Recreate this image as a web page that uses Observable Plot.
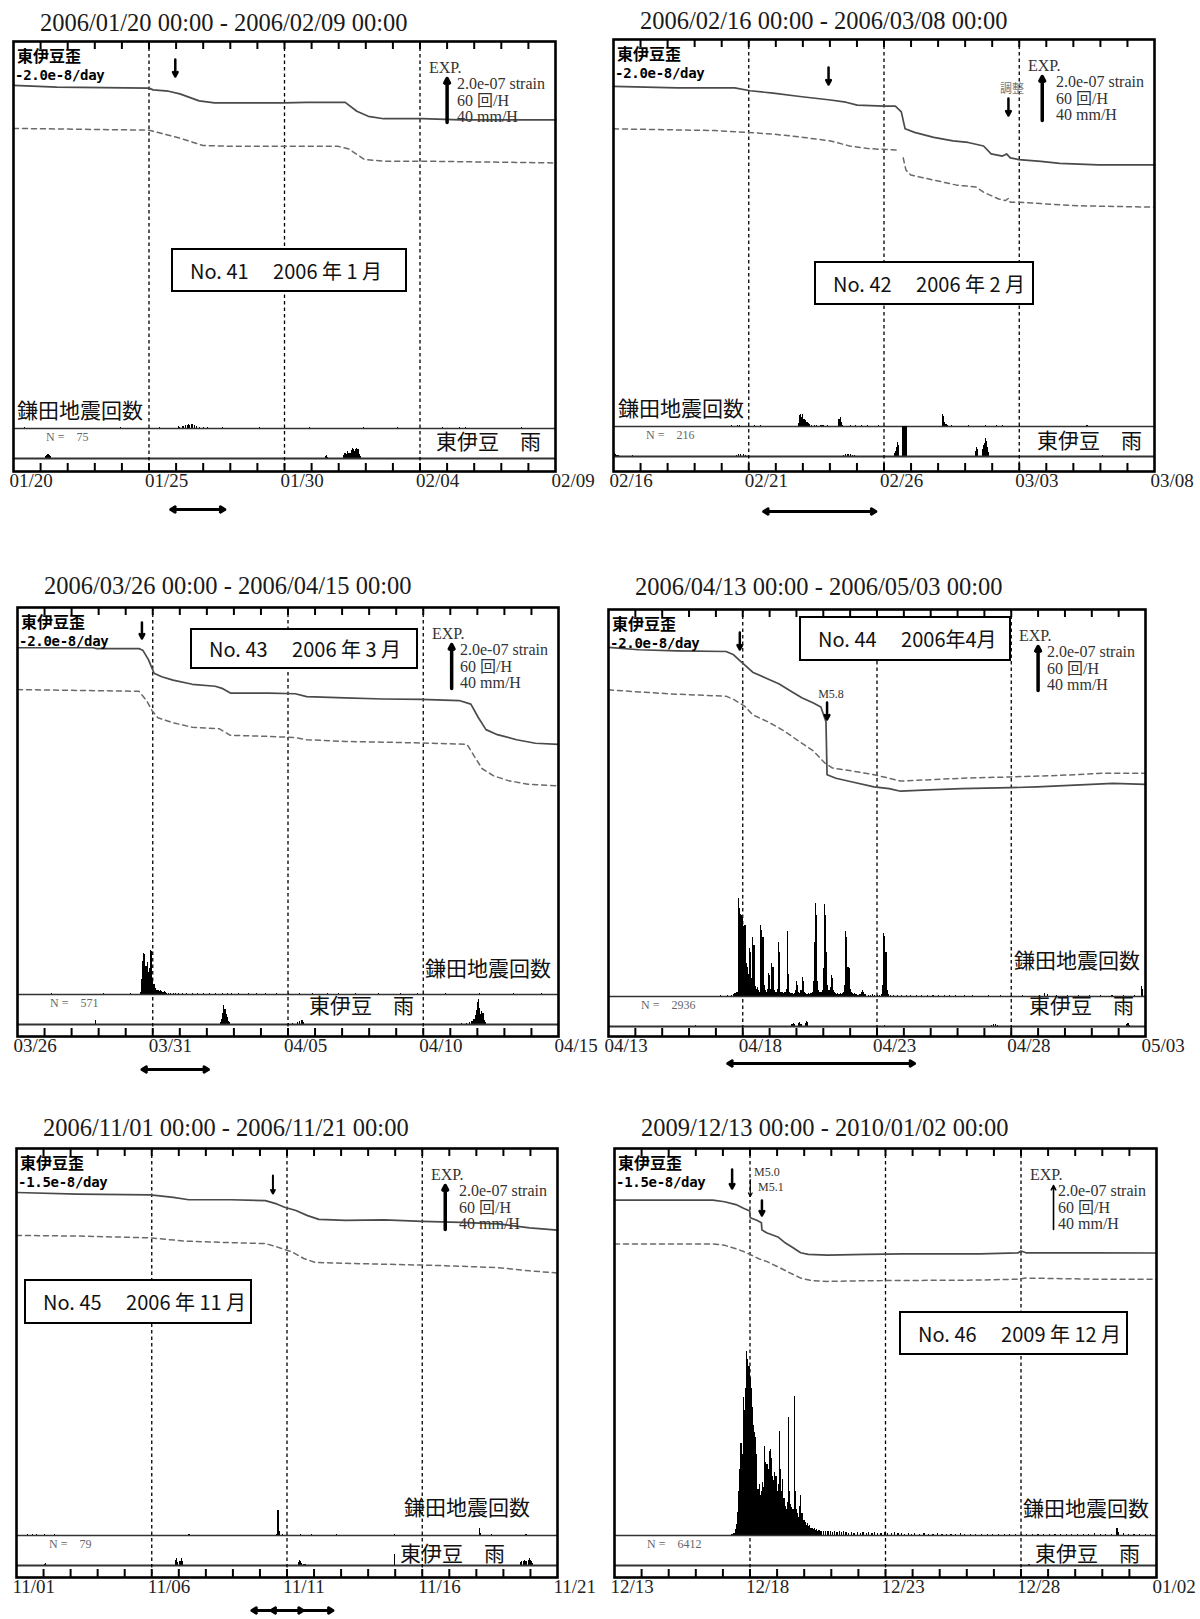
<!DOCTYPE html>
<html><head><meta charset="utf-8">
<script src="https://cdn.jsdelivr.net/npm/d3@7"></script>
<script src="https://cdn.jsdelivr.net/npm/@observablehq/plot@0.6"></script>
<style>
html,body{margin:0;padding:0;background:#fff;}
#root{position:relative;width:1200px;height:1619px;overflow:hidden;background:#fff;}
.t{position:absolute;line-height:1;white-space:pre;}
.box{position:absolute;box-sizing:border-box;border:2px solid #000;background:#fff;display:flex;align-items:center;font-family:"Noto Sans CJK JP",sans-serif;font-size:20px;color:#111;white-space:pre;}
</style></head>
<body><div id="root"></div>
<script>
// ---------------- data ----------------
const panelStarts = ["2006-01-20","2006-02-16","2006-03-26","2006-04-13","2006-11-01","2009-12-13"];
const panelNames = ["No. 41\u3000 2006 年 1 月","No. 42\u3000 2006 年 2 月","No. 43\u3000 2006 年 3 月","No. 44\u3000 2006年4月","No. 45\u3000 2006 年 11 月","No. 46\u3000 2009 年 12 月"];
const trendLabels = ["-2.0e-8/day","-2.0e-8/day","-2.0e-8/day","-2.0e-8/day","-1.5e-8/day","-1.5e-8/day"];
const quakeTotals = [75,216,571,2936,79,6412];
const expLines = ["2.0e-07 strain","60 回/H","40 mm/H"];
const EXP_STRAIN = 20;   // 2.0e-07 strain in units of 1e-8

// strain: [day offset, strain ×1e-8]  (solid = 東伊豆歪, dashed = second trace)
const solid1 = [[0,0.1],[1.6,-0.7],[5.0,-1.2],[5.15,-2.0],[5.72,-2.6],[6.14,-3.8],[6.85,-7.0],[7.42,-7.9],[9.97,-7.9],[10.82,-7.7],[12.24,-7.7],[12.67,-11.7],[13.09,-14.0],[13.66,-15.1],[15.08,-15.1],[16.5,-15.6],[20,-15.6]];
const dashed1 = [[0,-19.5],[5.0,-20.3],[5.72,-22.6],[6.14,-23.9],[6.99,-27.3],[7.99,-27.6],[11.96,-27.6],[12.38,-28.9],[12.95,-33.6],[13.66,-34.4],[15.08,-34.4],[20,-35.2]];
const solid2 = [[0,-1.3],[2.36,-2.0],[4.48,-2.0],[5.05,-3.3],[5.9,-4.4],[6.89,-5.9],[8.02,-7.5],[8.59,-8.5],[9.01,-9.8],[10.0,-10.3],[10.42,-10.3],[10.64,-12.9],[10.78,-20.6],[11.13,-22.2],[11.84,-24.5],[12.55,-26.1],[13.11,-26.8],[13.68,-28.4],[13.96,-32.0],[14.38,-33.0],[14.53,-32.0],[14.67,-33.8],[14.99,-34.6],[15.8,-35.4],[16.5,-36.3],[17.92,-37.0],[20,-37.0]];
const dashed2 = [[0,-20.6],[3.78,-21.4],[4.91,-22.2],[5.9,-23.0],[7.03,-24.5],[8.02,-26.1],[8.73,-28.4],[9.43,-29.6],[10.5,-30.3],[10.6,null],[10.71,-33.8],[10.81,-39.3],[10.99,-41.6],[11.84,-43.9],[12.69,-46.2],[13.39,-47.0],[13.68,-49.4],[14.24,-52.5],[14.5,-53.2],[14.6,-52.2],[14.67,-54.0],[14.99,-54.0],[15.8,-54.6],[17.21,-55.6],[20,-56.2]];
const solid3 = [[0,1.7],[2.79,1.7],[2.93,1.3],[4.49,1.3],[4.63,0.6],[4.84,-3.7],[5.05,-9.9],[5.33,-11.5],[5.75,-13.0],[6.46,-14.9],[7.31,-15.8],[7.59,-16.9],[7.87,-18.9],[9.28,-18.9],[10.27,-19.2],[10.69,-20.5],[12.1,-21.1],[13.51,-21.6],[14.92,-21.8],[16.33,-22.3],[16.76,-23.9],[17.04,-30.1],[17.32,-35.5],[17.74,-37.8],[18.45,-40.1],[19.15,-41.7],[20,-42.2]];
const dashed3 = [[0,-17.3],[4.49,-18.1],[4.77,-22.3],[4.98,-27.0],[5.19,-30.1],[5.75,-32.4],[6.46,-34.4],[7.45,-35.1],[7.87,-38.1],[9.28,-38.6],[10.27,-39.1],[10.69,-40.1],[12.1,-40.9],[13.51,-41.2],[14.92,-41.6],[16.62,-42.2],[16.9,-47.9],[17.18,-53.3],[17.6,-56.5],[18.17,-58.8],[18.87,-60.3],[20,-61.1]];
const solid4 = [[0,2.8],[1.13,1.7],[2.54,1.2],[4.38,0.9],[4.66,-0.6],[4.87,-3.0],[5.08,-5.3],[5.37,-8.5],[5.79,-10.8],[6.36,-13.9],[6.78,-17.0],[7.2,-20.1],[7.63,-22.5],[7.91,-24.3],[8.1,-31.0],[8.14,-55.1],[8.47,-56.7],[9.04,-58.3],[9.89,-60.6],[10.45,-61.4],[10.88,-62.6],[11.72,-62.1],[13.14,-61.4],[14.97,-61.0],[15.96,-60.6],[17.37,-59.8],[18.79,-59.0],[20,-59.5]];
const dashed4 = [[0,-16.5],[1.13,-17.5],[2.54,-18.5],[4.38,-19.4],[4.66,-20.9],[5.08,-24.0],[5.37,-27.9],[5.93,-31.0],[6.5,-34.9],[7.06,-39.6],[7.63,-44.3],[8.05,-49.7],[8.33,-52.0],[9.04,-53.3],[9.89,-55.1],[10.45,-56.7],[10.88,-58.0],[11.72,-57.5],[13.14,-56.7],[14.97,-56.1],[16.67,-55.5],[18.5,-54.4],[20,-54.4]];
const solid5 = [[0,0.0],[2.26,-0.7],[4.95,-1.1],[5.8,-2.2],[6.37,-3.3],[7.93,-3.3],[9.2,-3.7],[9.62,-5.2],[9.91,-6.7],[10.33,-8.2],[10.76,-10.5],[11.18,-12.2],[12.17,-12.7],[13.59,-12.4],[15.0,-13.1],[16.42,-13.6],[17.83,-14.3],[18.97,-16.1],[20,-17.1]];
const dashed5 = [[0,-19.5],[2.26,-19.8],[4.95,-20.6],[6.23,-22.1],[7.93,-22.8],[9.2,-23.2],[9.62,-24.7],[10.19,-27.0],[10.62,-30.0],[11.04,-31.8],[12.17,-32.2],[13.59,-32.6],[15.0,-33.0],[16.42,-33.5],[17.83,-34.2],[18.97,-35.6],[20,-36.6]];
const solid6 = [[0,-3.5],[3.63,-3.5],[4.06,-4.2],[4.48,-5.5],[4.76,-7.2],[4.99,-8.4],[5.01,-11.5],[5.25,-12.6],[5.42,-13.7],[5.44,-17.0],[5.61,-18.3],[6.03,-20.2],[6.31,-23.0],[6.59,-25.1],[6.87,-27.4],[7.15,-28.1],[7.86,-28.5],[9.27,-28.1],[10.68,-27.9],[13.49,-27.9],[14.9,-27.4],[15.0,-26.6],[15.18,-27.4],[17.72,-27.4],[20,-27.5]];
const dashed6 = [[0,-23.4],[3.63,-23.4],[4.06,-24.0],[4.48,-25.6],[4.76,-26.8],[5.04,-28.4],[5.32,-30.1],[5.61,-31.3],[6.03,-33.8],[6.45,-36.4],[6.87,-38.9],[7.3,-40.1],[7.86,-40.4],[9.27,-40.1],[13.49,-39.8],[14.9,-39.4],[15.18,-38.9],[17.72,-39.4],[20,-39.4]];

// 鎌田地震回数: [hour offset, count per hour]
const quake1 = [[10,1],[95,1],[129,1],[146,3],[147,2],[150,3],[152,4],[154,4],[155,5],[156,4],[158,5],[160,4],[162,3],[165,2],[168,2],[172,1],[185,1],[218,1],[262,1],[310,1],[340,1],[380,1],[395,1],[400,1],[450,1]];
const quake2 = [[105,1],[110,2],[112,1],[125,1],[130,1],[164,4],[165,15],[166,17],[167,12],[168,16],[169,10],[170,8],[171,5],[172,6],[173,4],[174,3],[176,2],[178,2],[180,1],[184,2],[185,2],[186,1],[190,1],[200,9],[201,12],[202,5],[203,2],[210,1],[215,1],[220,1],[225,1],[235,1],[292,17],[293,13],[294,6],[295,3],[296,1],[300,1],[315,1],[330,1],[340,1],[345,1],[360,1],[420,1]];
const quake3 = [[30,1],[76,1],[100,1],[109,3],[110,20],[111,45],[112,56],[113,54],[114,38],[115,44],[116,30],[117,35],[118,60],[119,58],[120,22],[121,14],[122,8],[123,5],[124,6],[125,5],[126,4],[127,5],[128,4],[129,3],[130,4],[131,3],[132,2],[134,2],[136,2],[138,1],[140,2],[143,1],[146,2],[150,1],[155,1],[160,2],[165,1],[170,2],[176,1],[182,2],[186,1],[190,2],[196,1],[205,1],[212,2],[220,1],[230,1],[240,1],[250,1],[262,1],[275,1],[285,1],[300,1],[320,1],[340,1],[355,1],[380,1],[410,1],[440,1],[465,1]];
const quake4 = [[100,1],[106,1],[110,2],[112,3],[113,4],[114,5],[115,6],[116,133],[117,120],[118,112],[119,110],[120,108],[121,95],[122,97],[123,45],[124,40],[125,30],[126,65],[127,60],[128,25],[129,81],[130,70],[131,13],[132,10],[133,12],[134,8],[135,6],[136,97],[137,90],[138,81],[139,15],[140,8],[141,6],[142,10],[143,31],[144,28],[145,10],[146,45],[147,40],[148,8],[149,6],[150,5],[151,10],[152,73],[153,60],[154,6],[155,5],[156,4],[157,5],[158,6],[159,10],[160,88],[161,30],[162,6],[163,4],[164,4],[165,3],[166,4],[167,8],[168,20],[169,15],[170,5],[171,4],[172,8],[173,26],[174,20],[175,5],[176,4],[177,3],[178,3],[179,4],[180,3],[181,4],[182,6],[183,20],[184,74],[185,127],[186,110],[187,20],[188,8],[189,5],[190,6],[191,8],[192,38],[193,125],[194,110],[195,60],[196,15],[197,8],[198,12],[199,29],[200,25],[201,8],[202,5],[203,4],[204,3],[205,4],[206,3],[207,4],[208,3],[209,4],[210,6],[211,15],[212,89],[213,80],[214,40],[215,38],[216,10],[217,6],[218,4],[219,3],[220,4],[221,3],[222,3],[223,2],[224,3],[225,3],[226,5],[227,8],[228,6],[229,3],[230,3],[232,2],[234,2],[236,3],[238,2],[240,2],[242,2],[244,3],[245,15],[246,86],[247,82],[248,60],[249,8],[250,3],[252,2],[255,2],[258,1],[262,2],[266,1],[270,2],[275,1],[280,2],[285,1],[290,2],[295,1],[300,1],[305,2],[310,1],[318,1],[325,1],[340,1],[350,1],[360,1],[370,2],[385,2],[390,4],[392,3],[400,1],[410,1],[420,2],[430,1],[440,1],[450,1],[460,1],[470,2],[476,14],[477,10]];
const quake5 = [[10,1],[14,1],[18,1],[25,1],[34,1],[153,1],[231,2],[232,34],[233,6],[236,2],[252,1],[262,1],[284,1],[335,1],[411,10],[412,3],[421,1],[452,1]];
const quake6 = [[104,2],[105,3],[106,3],[107,8],[108,15],[109,31],[110,60],[111,90],[112,126],[113,110],[114,188],[115,170],[116,200],[117,251],[118,240],[119,230],[120,215],[121,200],[122,174],[123,150],[124,140],[125,133],[126,110],[127,63],[128,70],[129,55],[130,60],[131,72],[132,65],[133,122],[134,100],[135,97],[136,90],[137,115],[138,117],[139,105],[140,81],[141,75],[142,86],[143,80],[144,60],[145,70],[146,142],[147,90],[148,60],[149,76],[150,50],[151,40],[152,35],[153,45],[154,161],[155,60],[156,42],[157,38],[158,35],[159,190],[160,60],[161,35],[162,30],[163,25],[164,40],[165,54],[166,30],[167,20],[168,20],[169,18],[170,14],[171,16],[172,12],[173,14],[174,10],[175,10],[176,8],[177,9],[178,7],[179,8],[180,6],[181,7],[182,6],[183,5],[185,6],[187,5],[189,5],[191,6],[193,4],[195,5],[197,4],[199,5],[201,4],[203,5],[205,4],[207,3],[210,4],[212,3],[215,4],[218,3],[220,4],[223,3],[225,4],[228,3],[230,4],[233,3],[236,3],[239,4],[242,3],[245,3],[248,4],[251,3],[254,3],[257,2],[260,3],[263,2],[266,3],[270,2],[274,3],[278,2],[282,2],[286,3],[290,2],[294,2],[298,2],[302,2],[306,3],[310,2],[315,2],[320,2],[325,2],[330,2],[335,2],[340,1],[345,2],[350,2],[355,1],[360,2],[365,2],[370,2],[375,1],[380,2],[385,2],[390,2],[395,1],[400,2],[405,2],[410,2],[415,2],[420,2],[425,3],[430,2],[435,1],[440,2],[445,9],[446,4],[451,3],[455,2],[460,2],[465,2],[470,2],[475,2]];

// 東伊豆 雨: [hour offset, mm per hour]
const rain1 = [[28,2],[29,3],[30,4],[31,4],[32,3],[33,2],[276,2],[277,3],[278,1],[292,3],[293,5],[294,5],[295,4],[296,6],[297,5],[298,5],[299,7],[300,9],[301,8],[302,6],[303,8],[304,9],[305,8],[306,4],[307,2]];
const rain2 = [[0,3],[1,3],[2,2],[3,1],[4,1],[17,1],[109,1],[111,2],[113,2],[115,2],[117,1],[204,1],[206,2],[208,2],[210,2],[212,1],[214,1],[249,3],[250,5],[251,8],[252,13],[253,10],[256,27],[257,27],[258,27],[259,27],[260,27],[321,5],[322,8],[323,6],[327,6],[328,10],[329,12],[330,16],[331,14],[332,8],[333,4],[434,1]];
const rain3 = [[69,4],[180,2],[181,5],[182,10],[183,17],[184,14],[185,9],[186,6],[187,3],[188,2],[240,1],[244,1],[248,2],[250,3],[252,4],[253,4],[254,2],[394,1],[398,1],[401,2],[403,3],[404,3],[405,5],[406,8],[407,13],[408,20],[409,23],[410,15],[411,9],[412,12],[413,10],[414,4],[415,2]];
const rain4 = [[78,1],[164,2],[165,3],[166,2],[170,3],[171,4],[172,2],[176,3],[177,5],[178,4],[247,1],[342,1],[344,2],[346,2],[348,1],[463,2],[464,3],[465,3],[466,1]];
const rain5 = [[25,1],[26,2],[141,5],[142,6],[143,3],[145,4],[146,6],[147,4],[250,3],[251,5],[252,4],[253,2],[255,1],[256,1],[335,10],[447,3],[448,4],[450,4],[451,5],[452,4],[454,5],[455,6],[456,5],[457,4],[458,2]];
const rain6 = [[367,1]];

// marked events (day offset) and highlighted periods (day offsets)
const events = [
  [{day:5.97}],
  [{day:7.95},{day:14.6,label:"調整"}],
  [{day:4.6}],
  [{day:4.89},{day:8.14,label:"M5.8"}],
  [{day:9.48}],
  [{day:4.34},{day:5.01,label:"M5.0"},{day:5.44,label:"M5.1"}]
];
const periods = [[[5.8,7.8]],[[5.55,9.7]],[[4.6,7.06]],[[4.44,11.4]],[[8.7,10.6],[9.41,11.7]],[]];

const solids = [solid1,solid2,solid3,solid4,solid5,solid6];
const dasheds = [dashed1,dashed2,dashed3,dashed4,dashed5,dashed6];
const quakes = [quake1,quake2,quake3,quake4,quake5,quake6];
const rains = [rain1,rain2,rain3,rain4,rain5,rain6];

// ---------------- layout ----------------
const layout = [
  {frame:[13,41,542,430], tdy:-18.5, box:[158,207,236,44], jq:[4,368], rl:[423,399], ev:[[18,35,2.5]], lbl:[], pdy:38, expDay:16.0, expW:3.5},
  {frame:[613,39,541,432], tdy:-18.5, box:[201,222,220,44], jq:[5,368], rl:[424,400], ev:[[28,45,2.5],[59,76,2.5]], lbl:[[1,399,50,"middle","#777"]], pdy:40, expDay:15.85, expW:3.5},
  {frame:[17,607,541,429], tdy:-21.5, box:[173,21,228,41], jq:[408,360], rl:[292,397], ev:[[15,31,2.5]], lbl:[], pdy:33, expDay:16.05, expW:3.5},
  {frame:[608,609,537,427], tdy:-22.5, box:[191,7,212,45], jq:[406,350], rl:[421,395], ev:[[23,40,2.5],[93,110,2.5]], lbl:[[1,223,85,"middle","#333"]], pdy:27, expDay:16.0, expW:3.5},
  {frame:[16,1148,541,429], tdy:-20.5, box:[8,131,228,45], jq:[388,358], rl:[384,404], ev:[[27,45,2]], lbl:[], pdy:33, expDay:15.85, expW:3.5},
  {frame:[614,1148,542,429], tdy:-20.5, box:[285,163,229,44], jq:[409,359], rl:[421,404], ev:[[21,40,2.5],[31,48,1.2],[52,67,2.5]], lbl:[[1,140,24,"start","#333"],[2,144,39,"start","#333"]], pdy:33, expDay:16.2, expW:1.6}
];
const K_STRAIN = 2.2, K_QUAKE = 44/60, K_RAIN = 44/40; // px per unit (EXP bar = 44 px)
const SEP = 387, RAIN_BASE = 417;
const mL = 30, mR = 60, mT = 12, mB = 60;
const DAY = 864e5, HOUR = 36e5;
const SERIF = "'Liberation Serif', 'Noto Sans CJK JP', serif";
const fmt = d3.utcFormat("%m/%d");
const fmtTitle = d3.utcFormat("%Y/%m/%d %H:%M");

const root = document.getElementById("root");
function txt(str, x, cy, css, anchor) {
  const d = document.createElement("div");
  d.className = "t";
  d.textContent = str;
  d.style.cssText = css;
  d.style.left = x + "px"; d.style.top = cy + "px";
  d.style.transform = anchor === "middle" ? "translate(-50%,-50%)" : "translateY(-50%)";
  root.appendChild(d);
  return d;
}
function fixSvg(svg) {
  svg.style.background = "transparent";
  svg.style.overflow = "visible";
  svg.style.position = "absolute";
  svg.style.left = "0px"; svg.style.top = "0px";
  svg.style.maxWidth = "none";
  return svg;
}

function buildPanel(i) {
  const L = layout[i];
  const [fx, fy, fw, fh] = L.frame;
  const start = new Date(panelStarts[i] + "T00:00:00Z");
  const end = new Date(+start + 20 * DAY);
  const tD = d => new Date(+start + d * DAY);
  const tH = h => new Date(+start + h * HOUR);
  const sTop = 20;
  const yS = rel => sTop - rel / K_STRAIN;
  const yMin = sTop - fh / K_STRAIN;

  const wrap = document.createElement("div");
  wrap.style.cssText = `position:absolute;left:${fx - mL}px;top:${fy - mT}px;width:${fw + mL + mR}px;height:${fh + mT + mB}px;`;
  root.appendChild(wrap);

  const base = {width: fw + mL + mR, height: fh + mT + mB, marginLeft: mL, marginRight: mR, marginTop: mT, marginBottom: mB,
    x: {type: "utc", domain: [start, end], axis: null}};

  const quakePlot = Plot.plot({...base,
    y: {domain: [-(fh - SEP) / K_QUAKE, SEP / K_QUAKE], axis: null},
    marks: [
      Plot.rect(quakes[i], {x1: d => tH(d[0]), x2: d => tH(d[0] + 1), y1: 0, y2: d => d[1], fill: "#000", shapeRendering: "crispEdges"}),
      Plot.ruleY([0], {stroke: "#333", strokeWidth: 1.6})
    ]});
  const rainPlot = Plot.plot({...base,
    y: {domain: [-(fh - RAIN_BASE) / K_RAIN, RAIN_BASE / K_RAIN], axis: null},
    marks: [
      Plot.rect(rains[i], {x1: d => tH(d[0]), x2: d => tH(d[0] + 1), y1: 0, y2: d => d[1], fill: "#000", shapeRendering: "crispEdges"}),
      Plot.ruleY([0], {stroke: "#333", strokeWidth: 2.2})
    ]});

  const days = d3.range(1, 20);
  const evMarks = events[i].map((e, j) => {
    const [top, bottom, w] = L.ev[j];
    return Plot.arrow([e], {x: d => tD(d.day), y1: yS(top), y2: yS(bottom), stroke: "#000", strokeWidth: w, headLength: w < 2 ? 5 : 3, headAngle: 55});
  });
  const perData = periods[i].flatMap(([a, b]) => [[(a + b) / 2, a], [(a + b) / 2, b]]);

  const main = Plot.plot({...base,
    y: {domain: [yMin, sTop], axis: null},
    marks: [
      Plot.ruleX([5, 10, 15], {x: tD, stroke: "#000", strokeWidth: 1.3, strokeDasharray: "3.5,3"}),
      Plot.tickX(days, {x: tD, insetTop: fh - 8, stroke: "#000", strokeWidth: 2}),
      Plot.tickX(days, {x: tD, insetBottom: fh - 8, stroke: "#000", strokeWidth: 2}),
      Plot.line(dasheds[i], {x: d => tD(d[0]), y: d => d[1], stroke: "#6a6a6a", strokeWidth: 1.5, strokeDasharray: "5,4"}),
      Plot.line(solids[i], {x: d => tD(d[0]), y: d => d[1], stroke: "#4a4a4a", strokeWidth: 1.7}),
      Plot.frame({stroke: "#000", strokeWidth: 2.6}),
      Plot.text([0, 5, 10, 15, 20], {x: tD, frameAnchor: "bottom", dy: 15, dx: -4, text: d => fmt(tD(d)), textAnchor: "start", fontSize: 19, fontFamily: SERIF, fill: "#222"}),
      Plot.arrow([EXP_STRAIN], {x: () => tD(L.expDay), y1: () => yS(81), y2: d => yS(81) + d, stroke: "#000", strokeWidth: L.expW, headLength: L.expW < 2 ? 4.5 : 2.2, headAngle: 55}),
      ...evMarks,
      Plot.arrow(perData, {x1: d => tD(d[0]), x2: d => tD(d[1]), y1: yMin, y2: yMin, dy: L.pdy, stroke: "#000", strokeWidth: 3, headLength: 2.6, headAngle: 60})
    ]});

  wrap.appendChild(fixSvg(quakePlot));
  wrap.appendChild(fixSvg(rainPlot));
  wrap.appendChild(fixSvg(main));

  // texts
  txt(`${fmtTitle(start)} - ${fmtTitle(end)}`, fx + 27, fy + L.tdy, `font-family:${SERIF};font-size:24.5px;color:#1a1a1a;`);
  txt("東伊豆歪", fx + 4, fy + 14, `font-family:'Noto Sans CJK JP',sans-serif;font-weight:700;font-size:16px;color:#000;`);
  txt(trendLabels[i], fx + 2, fy + 34, `font-family:'DejaVu Sans Mono',monospace;font-weight:700;font-size:14px;color:#000;letter-spacing:-0.3px;`);
  txt("EXP.", fx + fw - 126, fy + 27, `font-family:${SERIF};font-size:16px;color:#333;`);
  expLines.forEach((s, k) => txt(s, fx + fw - 98, fy + 43 + k * 16.5, `font-family:${SERIF};font-size:16px;color:#333;`));
  txt(`N =    ${quakeTotals[i]}`, fx + 33, fy + 396, `font-family:${SERIF};font-size:12px;color:#666;`);
  txt("鎌田地震回数", fx + L.jq[0], fy + L.jq[1], `font-family:'Noto Sans CJK JP',sans-serif;font-size:21px;color:#111;`);
  txt("東伊豆\u3000雨", fx + L.rl[0], fy + L.rl[1], `font-family:'Noto Sans CJK JP',sans-serif;font-size:21px;color:#111;`);
  L.lbl.forEach(([j, x, cy, anchor, col]) => txt(events[i][j].label, fx + x, fy + cy, `font-family:${SERIF};font-size:12px;color:${col};`, anchor));
  const [bx, by, bw, bh] = L.box;
  const b = document.createElement("div");
  b.className = "box";
  b.style.cssText += `left:${fx + bx}px;top:${fy + by}px;width:${bw}px;height:${bh}px;padding-left:17px;`;
  b.textContent = panelNames[i];
  root.appendChild(b);
}
for (let i = 0; i < 6; i++) buildPanel(i);
</script>
</body></html>
